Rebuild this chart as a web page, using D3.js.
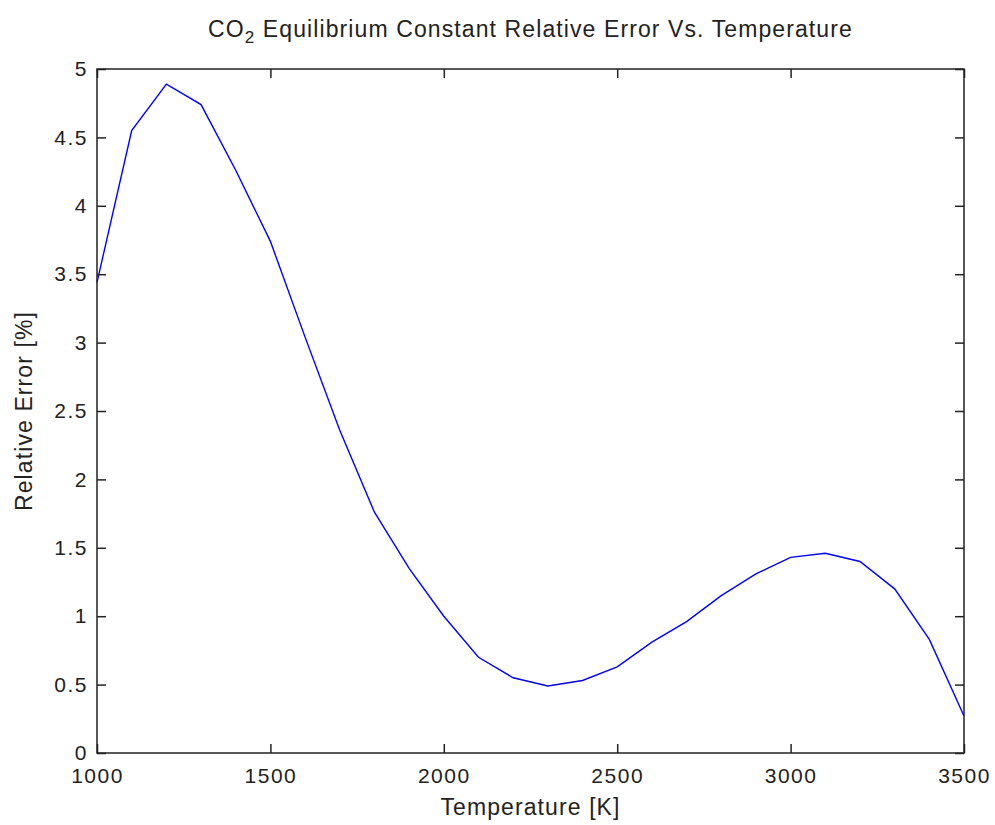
<!DOCTYPE html>
<html>
<head>
<meta charset="utf-8">
<script src="https://cdnjs.cloudflare.com/ajax/libs/d3/7.8.5/d3.min.js"></script>
<style>
  body { margin: 0; background: #fff; }
  text { font-family: "Liberation Sans", Arial, sans-serif; fill: #222; }
</style>
</head>
<body>
<div id="chart"></div>
<script>
// data (every 100 K)
var temps = [1000, 1100, 1200, 1300, 1400, 1500, 1600, 1700, 1800, 1900,
             2000, 2100, 2200, 2300, 2400, 2500, 2600, 2700, 2800, 2900,
             3000, 3100, 3200, 3300, 3400, 3500];
var relErr = [3.44, 4.55, 4.89, 4.74, 4.26, 3.74, 3.04, 2.36, 1.76, 1.35,
              1.00, 0.70, 0.55, 0.49, 0.53, 0.63, 0.81, 0.96, 1.15, 1.31,
              1.43, 1.46, 1.40, 1.20, 0.83, 0.27];
var xTicks = [1000, 1500, 2000, 2500, 3000, 3500];
var yTicks = [0, 0.5, 1, 1.5, 2, 2.5, 3, 3.5, 4, 4.5, 5];

var svgwdth = 995;
var svghght = 825;
var margin = {top: 69, right: 31, bottom: 72, left: 97};
var width = svgwdth - margin.left - margin.right;
var height = svghght - margin.top - margin.bottom;

var svg = d3.select("#chart")
  .append("svg")
  .attr("width", svgwdth)
  .attr("height", svghght);

var chartGroup = svg.append("g")
  .attr("transform", `translate(${margin.left}, ${margin.top})`);

var xScale = d3.scaleLinear().domain([1000, 3500]).range([0, width]);
var yScale = d3.scaleLinear().domain([0, 5]).range([height, 0]);

// curve
var line = d3.line()
  .x((d, i) => xScale(temps[i]))
  .y(d => yScale(d));

chartGroup.append("path")
  .datum(relErr)
  .attr("d", line)
  .attr("fill", "none")
  .attr("stroke", "#0000ff")
  .attr("stroke-width", 1.4);

// axes, matlab style: ticks inside on all sides
var tickLen = 9;
var axisCol = "#222";

chartGroup.append("g")
  .attr("transform", `translate(0, ${height})`)
  .call(d3.axisBottom(xScale).tickValues(xTicks).tickSize(-tickLen).tickPadding(15).tickFormat(d3.format("d")))
  .call(g => g.select(".domain").remove());

chartGroup.append("g")
  .call(d3.axisTop(xScale).tickValues(xTicks).tickSize(-tickLen).tickFormat(""))
  .call(g => g.select(".domain").remove());

chartGroup.append("g")
  .call(d3.axisLeft(yScale).tickValues(yTicks).tickSize(-tickLen).tickPadding(9).tickFormat(d => d))
  .call(g => g.select(".domain").remove());

chartGroup.append("g")
  .attr("transform", `translate(${width}, 0)`)
  .call(d3.axisRight(yScale).tickValues(yTicks).tickSize(-tickLen).tickFormat(""))
  .call(g => g.select(".domain").remove());

chartGroup.selectAll(".tick line")
  .attr("stroke", axisCol)
  .attr("stroke-width", 1.5);
chartGroup.selectAll(".tick text")
  .style("font-size", "21px")
  .style("letter-spacing", "1.5px")
  .attr("fill", "#222");

chartGroup.append("rect")
  .attr("width", width)
  .attr("height", height)
  .attr("fill", "none")
  .attr("stroke", axisCol)
  .attr("stroke-width", 1.5);

// labels
var title = svg.append("text")
  .attr("x", margin.left + width / 2)
  .attr("y", 37)
  .attr("text-anchor", "middle")
  .style("font-size", "23px")
  .style("letter-spacing", "1.1px");
title.append("tspan").text("CO");
title.append("tspan").attr("dy", 6).style("font-size", "17px").text("2");
title.append("tspan").attr("dy", -6).text(" Equilibrium Constant Relative Error Vs. Temperature");

svg.append("text")
  .attr("x", margin.left + width / 2)
  .attr("y", 815)
  .attr("text-anchor", "middle")
  .style("font-size", "23px")
  .style("letter-spacing", "1.1px")
  .text("Temperature [K]");

svg.append("text")
  .attr("transform", "rotate(-90)")
  .attr("x", -(margin.top + height / 2))
  .attr("y", 32)
  .attr("text-anchor", "middle")
  .style("font-size", "23px")
  .style("letter-spacing", "1.1px")
  .text("Relative Error [%]");
</script>
</body>
</html>
